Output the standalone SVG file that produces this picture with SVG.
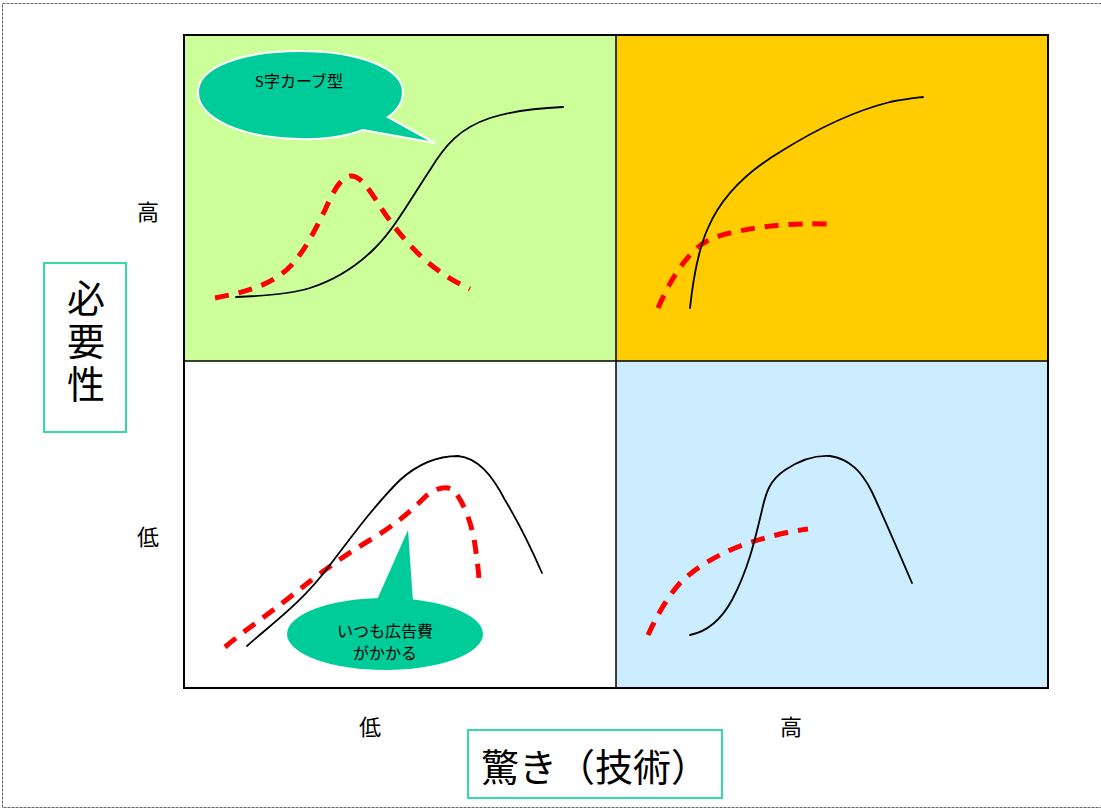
<svg xmlns="http://www.w3.org/2000/svg" width="1101" height="810" viewBox="0 0 1101 810">
<style>
.jp{font-family:"Liberation Serif","Noto Sans CJK JP",serif;fill:#000}
.js{font-family:"Liberation Sans","Noto Sans CJK JP",sans-serif;fill:#000}
.blk{fill:none;stroke:#000;stroke-width:1.8;stroke-linecap:round;stroke-linejoin:round}
.red{fill:none;stroke:#FF0000;stroke-width:5;stroke-dasharray:14 10;stroke-linecap:butt;stroke-linejoin:round}
.box{fill:#fff;stroke:#33D9A6;stroke-width:2}
.call{fill:#00CC99}
</style>
<rect x="2.5" y="3.5" width="1110" height="804" fill="#fff" stroke="#666" stroke-width="1" stroke-dasharray="3 1"/>
<g id="quadrants">
<rect x="184" y="35" width="432" height="326" fill="#CCFF99"/>
<rect x="616" y="35" width="432" height="326" fill="#FFCC00"/>
<rect x="184" y="361" width="432" height="327" fill="#FFFFFF"/>
<rect x="616" y="361" width="432" height="327" fill="#CCECFF"/>
<rect x="184" y="35" width="864" height="653" fill="none" stroke="#000" stroke-width="2"/>
<line x1="616" y1="35" x2="616" y2="688" stroke="#000" stroke-width="1.5"/>
<line x1="184" y1="361" x2="1048" y2="361" stroke="#000" stroke-width="1.5"/>
</g>
<g id="axis-labels">
<text class="jp" x="148" y="220" font-size="22" text-anchor="middle">高</text>
<text class="jp" x="148" y="545" font-size="22" text-anchor="middle">低</text>
<text class="jp" x="370" y="735" font-size="22" text-anchor="middle">低</text>
<text class="jp" x="791" y="735" font-size="22" text-anchor="middle">高</text>
</g>
<g id="y-label">
<rect class="box" x="44" y="263" width="82" height="169"/>
<text class="js" x="86" y="312" font-size="38" text-anchor="middle">必</text>
<text class="js" x="86" y="355" font-size="38" text-anchor="middle">要</text>
<text class="js" x="86" y="398" font-size="38" text-anchor="middle">性</text>
</g>
<g id="x-label">
<rect class="box" x="468" y="730" width="254" height="68"/>
<text class="js" x="595" y="781" font-size="38" text-anchor="middle">驚き（技術）</text>
</g>
<g id="connectors">
<path class="red" d="M215,298 C240,293 262,288 280,275 C300,262 315,230 325,210 C333,192 340,178 350,176 C360,175 368,188 378,203 C390,222 405,242 425,260 C440,273 455,282 470,289"/>
<path class="blk" d="M236,297 C265,296 290,294 310,288 C335,280 355,268 375,248 C395,228 410,200 430,170 C445,145 460,128 490,118 C515,110 540,108 563,107"/>
<path class="red" d="M658,308 C666,290 675,272 690,255 C700,244 708,238 730,233 C760,226 790,223 827,224"/>
<path class="blk" d="M690,308 C693,280 698,250 708,228 C722,195 750,170 780,152 C815,130 850,112 890,102 C905,99 915,98 923,97"/>
<path class="red" d="M225,647 C245,630 265,617 290,597 C315,577 340,558 370,540 C395,525 410,512 425,497 C435,488 448,484 455,492 C465,505 472,525 475,545 C477,560 479,572 479,583"/>
<path class="blk" d="M247,646 C270,625 300,605 330,565 C355,532 375,505 400,480 C420,462 440,456 458,456 C478,458 492,475 505,500 C520,525 532,550 542,573"/>
<path class="red" d="M648,635 C655,620 665,600 680,583 C695,568 715,556 740,546 C765,537 790,531 808,529"/>
<path class="blk" d="M690,635 C705,632 720,622 732,600 C748,570 755,540 762,510 C766,492 770,480 785,470 C800,460 815,455 830,456 C850,459 862,472 872,492 C885,520 900,555 912,583"/>
</g>
<g id="callout-s">
<path class="call" stroke="#fff" stroke-width="2" d="M388,117 L435,143 L363,130 C345,137 320,140 300,139 C240,138 198,118 198,92 C198,67 242,51 300,51 C358,51 403,68 403,92 C403,102 398,110 388,117 Z"/>
<text class="jp" x="299" y="87" font-size="16" text-anchor="middle" fill="#003322">S字カーブ型</text>
</g>
<g id="callout-ad">
<ellipse class="call" cx="385" cy="634" rx="98" ry="36"/>
<path class="call" d="M376,602 L408,530 L413,602 Z"/>
<text class="js" x="385" y="637" font-size="16" text-anchor="middle" fill="#1a1a1a">いつも広告費</text>
<text class="js" x="385" y="659" font-size="16" text-anchor="middle" fill="#1a1a1a">がかかる</text>
</g>
</svg>
